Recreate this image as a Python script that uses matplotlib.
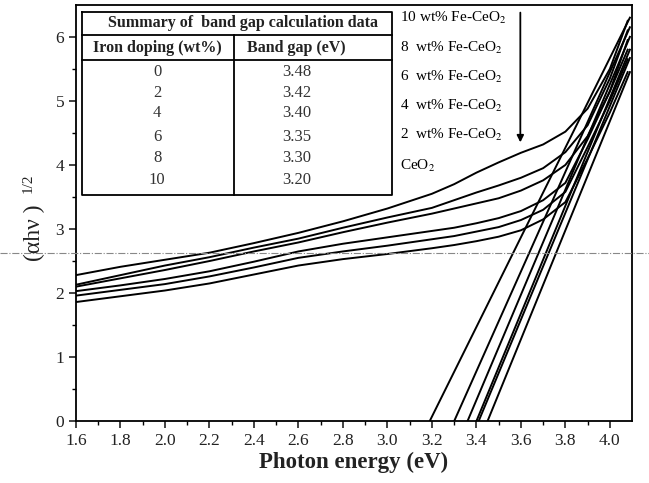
import matplotlib
matplotlib.use('Agg')
import matplotlib.pyplot as plt
from matplotlib.lines import Line2D

plt.rcParams['font.family'] = ['Liberation Serif', 'DejaVu Serif']
plt.rcParams['mathtext.fontset'] = 'stix'

# photon energy grid (eV) and Tauc curves
energia = [1.6, 1.8, 2.0, 2.2, 2.4, 2.6, 2.8, 3.0, 3.2, 3.3, 3.4, 3.5, 3.6, 3.7, 3.8, 3.9, 4.0, 4.08]
curva_10 = [2.28, 2.41, 2.52, 2.63, 2.78, 2.94, 3.12, 3.32, 3.55, 3.70, 3.88, 4.04, 4.19, 4.32, 4.52, 4.88, 5.50, 6.25]
curva_8 = [2.13, 2.28, 2.43, 2.56, 2.71, 2.85, 3.02, 3.18, 3.33, 3.45, 3.57, 3.68, 3.80, 3.95, 4.20, 4.62, 5.35, 6.10]
curva_6 = [2.10, 2.23, 2.36, 2.50, 2.65, 2.79, 2.95, 3.10, 3.24, 3.32, 3.40, 3.48, 3.60, 3.76, 4.00, 4.45, 5.15, 5.95]
curva_4 = [2.03, 2.12, 2.22, 2.34, 2.49, 2.65, 2.77, 2.87, 2.97, 3.02, 3.09, 3.17, 3.28, 3.45, 3.72, 4.40, 5.15, 5.80]
curva_2 = [1.96, 2.05, 2.14, 2.26, 2.40, 2.55, 2.65, 2.74, 2.84, 2.89, 2.96, 3.03, 3.14, 3.30, 3.58, 4.28, 5.00, 5.65]
curva_0 = [1.86, 1.95, 2.04, 2.15, 2.29, 2.43, 2.53, 2.61, 2.70, 2.75, 2.81, 2.88, 2.98, 3.15, 3.42, 4.10, 4.82, 5.45]
curvas = [curva_10, curva_8, curva_6, curva_4, curva_2, curva_0]

# tangent lines: x intercept, end point at top right
intercepto = [3.19, 3.30, 3.36, 3.40, 3.41, 3.45]
x_fim = [4.09, 4.09, 4.09, 4.09, 4.09, 4.09]
y_fim = [6.30, 6.15, 6.00, 5.80, 5.67, 5.45]

# table
dopagem = ['0', '2', '4', '6', '8', '10']
band_gap = ['3.48', '3.42', '3.40', '3.35', '3.30', '3.20']

rotulos = ['10 wt% Fe-CeO$_2$', '8  wt% Fe-CeO$_2$', '6  wt% Fe-CeO$_2$',
           '4  wt% Fe-CeO$_2$', '2  wt% Fe-CeO$_2$', 'CeO$_2$']

fig = plt.figure(figsize=(6.49, 4.83), dpi=100)
ax = fig.add_axes([0.117, 0.128, 0.857, 0.862])

for c in curvas:
    ax.plot(energia, c, color='black', lw=1.4)
for x0, x1, y1 in zip(intercepto, x_fim, y_fim):
    ax.plot([x0, x1], [0, y1], color='black', lw=1.4)

ax.set_xlim(1.6, 4.1)
ax.set_ylim(0, 6.5)
ax.set_xticks([1.6, 1.8, 2.0, 2.2, 2.4, 2.6, 2.8, 3.0, 3.2, 3.4, 3.6, 3.8, 4.0])
ax.set_xticklabels(['1.6', '1.8', '2.0', '2.2', '2.4', '2.6', '2.8', '3.0', '3.2', '3.4', '3.6', '3.8', '4.0'])
ax.set_yticks([0, 1, 2, 3, 4, 5, 6])
ax.set_xticks([1.7 + 0.2 * i for i in range(12)], minor=True)
ax.set_yticks([0.5, 1.5, 2.5, 3.5, 4.5, 5.5], minor=True)
ax.tick_params(labelsize=12.5, width=1.2, length=5, colors='#222222')
ax.tick_params(which='minor', length=3, width=1)
for s in ax.spines.values():
    s.set_linewidth(1.3)

ax.set_xlabel('Photon energy (eV)', fontsize=16.5, fontweight='bold', labelpad=2, color='#222222')
ax.text(-0.075, 0.452, '(\u03b1h\u03bd )', rotation=90, transform=ax.transAxes,
        fontsize=17, ha='center', va='center', color='#222222')
ax.text(-0.086, 0.572, '1/2', rotation=90, transform=ax.transAxes,
        fontsize=11, ha='center', va='center', color='#222222')

# summary table (axes fraction)
tx0, tx1, tdiv = 0.011, 0.568, 0.284
ty_top, ty1, ty2, ty_bot = 0.983, 0.928, 0.868, 0.543
kw = dict(transform=ax.transAxes, color='black', lw=1.3)
ax.add_line(Line2D([tx0, tx1, tx1, tx0, tx0], [ty_top, ty_top, ty_bot, ty_bot, ty_top], **kw))
ax.add_line(Line2D([tx0, tx1], [ty1, ty1], **kw))
ax.add_line(Line2D([tx0, tx1], [ty2, ty2], **kw))
ax.add_line(Line2D([tdiv, tdiv], [ty1, ty_bot], **kw))
ax.text((tx0 + tx1) / 2 + 0.01, 0.957, 'Summary of  band gap calculation data', transform=ax.transAxes,
        ha='center', va='center', fontsize=11.5, fontweight='bold', color='#222222')
ax.text(0.146, 0.897, 'Iron doping (wt%)', transform=ax.transAxes,
        ha='center', va='center', fontsize=11.5, fontweight='bold', color='#222222')
ax.text(0.397, 0.897, 'Band gap (eV)', transform=ax.transAxes,
        ha='center', va='center', fontsize=11.5, fontweight='bold', color='#222222')
linhas_y = [0.839, 0.788, 0.740, 0.683, 0.632, 0.579]
for yy, d, g in zip(linhas_y, dopagem, band_gap):
    ax.text(0.146, yy, d, transform=ax.transAxes, ha='center', va='center', fontsize=12, color='#333333')
    ax.text(0.397, yy, g, transform=ax.transAxes, ha='center', va='center', fontsize=12, color='#333333')

# sample labels and arrow
rot_y = [0.969, 0.897, 0.827, 0.757, 0.688, 0.613]
for yy, r in zip(rot_y, rotulos):
    ax.text(0.583, yy, r, transform=ax.transAxes, ha='left', va='center', fontsize=11)
ax.annotate('', xy=(0.799, 0.663), xytext=(0.799, 0.988), xycoords='axes fraction',
            arrowprops=dict(arrowstyle='-|>', color='black', lw=1.3, mutation_scale=10))

# horizontal dash-dot line across the page
fig.add_artist(Line2D([0, 1], [0.476, 0.476], transform=fig.transFigure,
                      color='#888888', lw=0.8, ls='-.'))

plt.savefig('out.png', dpi=100)
plt.close()
